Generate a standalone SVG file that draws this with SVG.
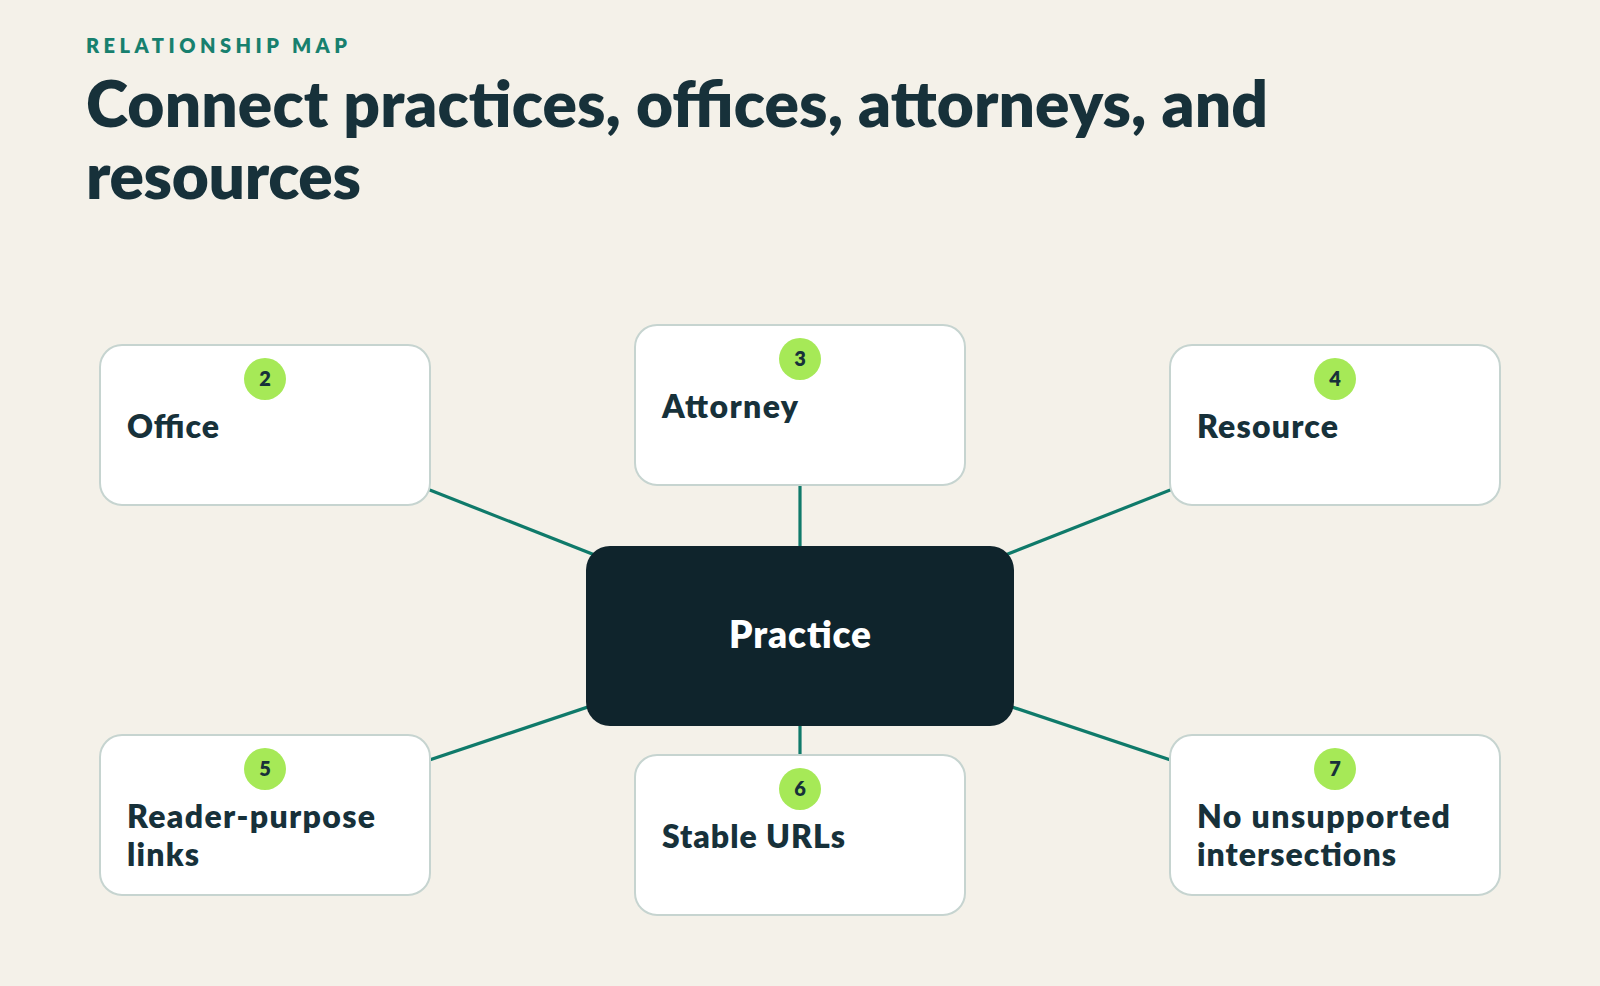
<svg xmlns="http://www.w3.org/2000/svg" width="1600" height="986" viewBox="0 0 1600 986">
<style>
.bg{fill:#f4f1e9}
.eyebrow{font-family:Lato,"Noto Sans",sans-serif;font-weight:800;font-size:20px;fill:#17806e}
.title{font-family:Lato,"Noto Sans",sans-serif;font-weight:800;font-size:64px;fill:#17313a}
.box{fill:#ffffff;stroke:#c6d4d0;stroke-width:2}
.hub{fill:#0f242c}
.label{font-family:Lato,"Noto Sans",sans-serif;font-weight:800;font-size:32px;fill:#17313a}
.hubtext{font-family:Lato,"Noto Sans",sans-serif;font-weight:800;font-size:37px;fill:#ffffff;text-anchor:middle}
.badge{fill:#a6e957}
.num{font-family:Lato,"Noto Sans",sans-serif;font-weight:800;font-size:20px;fill:#17313a;text-anchor:middle}
.edge{stroke:#0f7a6a;stroke-width:3.2;fill:none}
</style>
<rect class="bg" x="0" y="0" width="1600" height="986"/>
<g id="header">
<text class="eyebrow" x="86" y="53" textLength="261">RELATIONSHIP MAP</text>
<text class="title" x="86" y="127" textLength="1182">Connect practices, offices, attorneys, and</text>
<text class="title" x="86" y="199" textLength="275">resources</text>
</g>
<g id="connectors">
<line class="edge" x1="265" y1="425" x2="800" y2="636"/>
<line class="edge" x1="800" y1="405" x2="800" y2="636"/>
<line class="edge" x1="1335" y1="425" x2="800" y2="636"/>
<line class="edge" x1="265" y1="815" x2="800" y2="636"/>
<line class="edge" x1="800" y1="835" x2="800" y2="636"/>
<line class="edge" x1="1335" y1="815" x2="800" y2="636"/>
</g>
<g id="node-practice">
<rect class="hub" x="586" y="546" width="428" height="180" rx="24"/>
<text class="hubtext" x="800" y="648" textLength="142">Practice</text>
</g>
<g id="node-office">
<rect class="box" x="100" y="345" width="330" height="160" rx="22"/>
<circle class="badge" cx="265" cy="379" r="21"/>
<text class="num" x="265" y="386">2</text>
<text class="label" x="127" y="438" textLength="92">Office</text>
</g>
<g id="node-attorney">
<rect class="box" x="635" y="325" width="330" height="160" rx="22"/>
<circle class="badge" cx="800" cy="359" r="21"/>
<text class="num" x="800" y="366">3</text>
<text class="label" x="662" y="418" textLength="136">Attorney</text>
</g>
<g id="node-resource">
<rect class="box" x="1170" y="345" width="330" height="160" rx="22"/>
<circle class="badge" cx="1335" cy="379" r="21"/>
<text class="num" x="1335" y="386">4</text>
<text class="label" x="1197" y="438" textLength="141">Resource</text>
</g>
<g id="node-reader">
<rect class="box" x="100" y="735" width="330" height="160" rx="22"/>
<circle class="badge" cx="265" cy="769" r="21"/>
<text class="num" x="265" y="776">5</text>
<text class="label" x="127" y="828" textLength="248">Reader-purpose</text>
<text class="label" x="127" y="866" textLength="72">links</text>
</g>
<g id="node-stable">
<rect class="box" x="635" y="755" width="330" height="160" rx="22"/>
<circle class="badge" cx="800" cy="789" r="21"/>
<text class="num" x="800" y="796">6</text>
<text class="label" x="662" y="848" textLength="183">Stable URLs</text>
</g>
<g id="node-intersections">
<rect class="box" x="1170" y="735" width="330" height="160" rx="22"/>
<circle class="badge" cx="1335" cy="769" r="21"/>
<text class="num" x="1335" y="776">7</text>
<text class="label" x="1197" y="828" textLength="253">No unsupported</text>
<text class="label" x="1197" y="866" textLength="199">intersections</text>
</g>
</svg>
